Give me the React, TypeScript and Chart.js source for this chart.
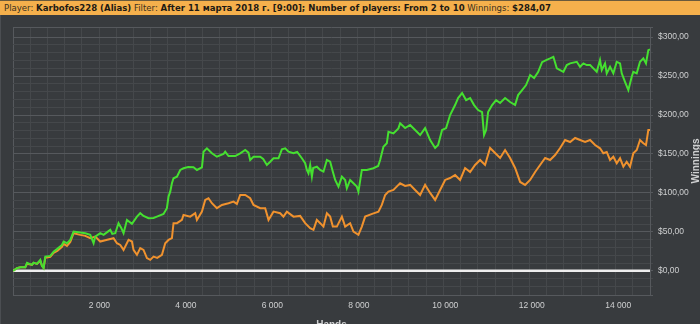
import React, { useEffect, useRef } from "react";
import { Chart, registerables } from "chart.js";

Chart.register(...registerables);

const headerPlayer = "Karbofos228 (Alias)";
const headerFilter = "After 11 марта 2018 г. [9:00]; Number of players: From 2 to 10";
const headerWinnings = "$284,07";

const xTitle = "Hands";
const yTitle = "Winnings";

const xTickValues = [2000, 4000, 6000, 8000, 10000, 12000, 14000];
const xTickLabels = ["2 000", "4 000", "6 000", "8 000", "10 000", "12 000", "14 000"];

const xMin = 0;
const xMax = 14734;
const yMin = -31;
const yMax = 313;
const xMinorStep = 400;
const xMajorStep = 2000;
const yMinorStep = 10;
const yMajorStep = 50;

const greenHands = [
  0, 92, 169, 284, 324, 439, 476, 555, 631, 670, 707, 747, 862, 939, 1024, 1133, 1170, 1248, 1325, 1401,
  1556, 1672, 1787, 1864, 1903, 2018, 2095, 2250, 2296, 2365, 2441, 2504, 2557, 2636, 2751, 2867, 2943, 3019,
  3135, 3251, 3329, 3482, 3560, 3597, 3637, 3676, 3713, 3792, 3868, 3944, 4053, 4175, 4254, 4370, 4407, 4485,
  4601, 4716, 4869, 4908, 4985, 5140, 5255, 5371, 5447, 5486, 5563, 5718, 5787, 5872, 5949, 6025, 6141, 6219,
  6296, 6372, 6488, 6573, 6682, 6758, 6797, 6834, 6874, 6913, 6943, 7028, 7105, 7181, 7260, 7336, 7398, 7452,
  7528, 7607, 7683, 7722, 7798, 7875, 7953, 7990, 8069, 8184, 8337, 8446, 8492, 8568, 8647, 8684, 8800, 8915,
  8954, 9070, 9186, 9301, 9417, 9532, 9648, 9764, 9833, 9925, 10018, 10110, 10226, 10295, 10388, 10480, 10573,
  10665, 10758, 10850, 10896, 10943, 10989, 11082, 11174, 11267, 11382, 11498, 11614, 11683, 11776, 11868,
  11961, 12053, 12146, 12238, 12331, 12423, 12499, 12578, 12731, 12809, 12886, 13040, 13116, 13193, 13271,
  13348, 13424, 13502, 13578, 13618, 13694, 13733, 13810, 13886, 13965, 14041, 14080, 14156, 14233, 14272,
  14311, 14348, 14427, 14503, 14580, 14641, 14695, 14734,
];
const greenWinnings = [
  0, 3.5, 4.7, 4.7, 10.3, 7.7, 10.6, 9.0, 14.1, 6.4, 3.5, 18.3, 19.2, 24.7, 28.2, 33.3, 37.6, 35.5, 39.7, 50.4,
  49.1, 48.3, 46.2, 35.5, 44.0, 48.3, 46.2, 52.6, 47.4, 48.3, 61.2, 55.1, 48.3, 65.4, 60.3, 69.6, 74.0, 70.5,
  67.6, 67.9, 69.6, 73.1, 80.4, 95.3, 101.7, 112.4, 118.8, 120.9, 129.5, 131.7, 133.3, 132.9, 129.5, 132.9, 152.9, 157.3,
  150.9, 146.5, 150.0, 152.9, 147.4, 147.4, 150.9, 155.1, 151.7, 142.3, 146.5, 146.5, 143.6, 135.9, 140.1, 144.5, 144.5, 156.0,
  157.3, 152.9, 150.9, 152.6, 144.5, 138.1, 129.5, 125.2, 135.9, 120.9, 132.0, 133.7, 129.5, 127.3, 142.3, 140.1, 127.3, 116.7,
  108.1, 120.9, 116.7, 106.0, 116.7, 112.4, 108.1, 101.7, 129.5, 129.5, 131.7, 134.6, 142.3, 159.4, 163.7, 178.6, 176.5, 182.9,
  189.4, 183.3, 187.2, 180.8, 174.4, 183.3, 167.9, 157.7, 161.5, 180.8, 183.3, 200.0, 212.8, 221.8, 228.2, 219.2, 221.8,
  212.8, 206.4, 203.8, 174.4, 180.8, 203.8, 212.8, 219.2, 215.4, 221.8, 216.7, 212.8, 225.6, 232.1, 238.5,
  251.3, 247.4, 255.1, 267.9, 270.5, 272.7, 274.7, 259.9, 255.5, 264.1, 266.3, 268.3, 261.9, 266.3, 264.1,
  264.1, 259.9, 255.5, 270.5, 257.7, 266.3, 253.5, 261.9, 253.5, 268.3, 266.3, 253.5, 242.7, 232.0, 240.6,
  249.1, 255.5, 253.5, 268.3, 272.7, 266.3, 283.3, 284.07,
];

const orangeHands = [
  0, 92, 169, 284, 324, 439, 476, 555, 631, 670, 707, 747, 862, 939, 1024, 1133, 1170, 1248, 1325, 1401,
  1556, 1672, 1787, 1903, 2018, 2157, 2326, 2404, 2481, 2557, 2673, 2751, 2788, 2867, 2943, 3019, 3098, 3174,
  3251, 3336, 3445, 3521, 3597, 3676, 3713, 3792, 3907, 3944, 4099, 4215, 4254, 4370, 4446, 4522, 4601, 4716,
  4832, 4985, 5100, 5179, 5255, 5371, 5486, 5563, 5718, 5833, 5910, 6025, 6180, 6256, 6335, 6488, 6642, 6758,
  6874, 6950, 7028, 7105, 7181, 7260, 7336, 7398, 7491, 7607, 7683, 7798, 7875, 7990, 8069, 8145, 8307, 8453,
  8531, 8608, 8684, 8800, 8915, 8954, 9070, 9186, 9301, 9417, 9532, 9648, 9764, 9879, 9995, 10110, 10226,
  10342, 10457, 10573, 10688, 10804, 10919, 11035, 11151, 11267, 11382, 11498, 11614, 11730, 11845, 11961,
  12077, 12192, 12308, 12423, 12539, 12655, 12770, 12886, 13002, 13117, 13233, 13348, 13464, 13578, 13655,
  13733, 13810, 13886, 13965, 14041, 14118, 14195, 14272, 14348, 14427, 14503, 14580, 14641, 14695, 14734,
];
const orangeWinnings = [
  0, 3.5, 4.7, 4.7, 9.0, 7.7, 10.3, 9.0, 12.8, 6.4, 3.8, 16.7, 17.9, 23.1, 25.6, 30.8, 34.6, 32.1, 37.2, 48.3,
  46.2, 44.9, 41.9, 44.0, 37.6, 39.7, 41.9, 35.5, 33.3, 26.9, 39.7, 37.6, 26.9, 20.5, 29.1, 26.9, 16.3, 14.1,
  18.3, 16.7, 20.5, 35.5, 39.7, 41.9, 61.2, 61.2, 65.4, 71.8, 69.6, 74.0, 65.4, 76.0, 91.0, 93.2, 86.8, 80.4,
  84.6, 86.8, 88.8, 85.9, 97.4, 97.4, 93.2, 84.6, 80.4, 80.4, 65.4, 76.0, 74.0, 69.6, 76.0, 69.6, 70.5, 61.2,
  54.7, 52.6, 65.4, 61.2, 56.8, 74.0, 69.6, 56.8, 56.8, 69.6, 56.8, 61.2, 50.4, 46.2, 56.8, 69.6, 73.1, 76.0,
  84.6, 97.4, 101.7, 103.8, 110.3, 112.4, 109.0, 110.3, 103.8, 97.4, 110.3, 100.0, 91.0, 103.8, 116.7, 119.2, 123.1,
  116.7, 132.0, 126.9, 135.9, 142.3, 135.9, 157.7, 151.3, 144.9, 155.1, 144.9, 132.0, 114.1, 110.3, 116.7,
  126.9, 135.9, 144.9, 142.3, 148.7, 157.7, 167.9, 165.4, 170.5, 167.9, 165.4, 167.9, 161.5, 157.3, 150.9,
  152.6, 142.3, 146.5, 138.1, 144.5, 133.7, 140.1, 133.7, 150.9, 155.1, 167.9, 163.7, 161.5, 180.8, 180.8,
];

const zeroHands = [xMin, xMax];
const zeroWinnings = [0, 0];

const BG = "#383b3e";
const GRID_MINOR = "#45484b";
const GRID_MAJOR = "#56595d";
const TEXT = "#cfd0d1";
const GREEN = "#45e030";
const ORANGE = "#f0922e";
const FONT = '"Liberation Sans", Arial, sans-serif';

const textPlugin = {
  id: "axisTextCustom",
  afterDraw(chart: any) {
    const { ctx, chartArea } = chart;
    const xs = chart.scales.x;
    ctx.save();
    ctx.fillStyle = TEXT;
    ctx.font = `8.5px ${FONT}`;
    ctx.textAlign = "center";
    ctx.textBaseline = "middle";
    xTickValues.forEach((v, i) => {
      ctx.fillText(xTickLabels[i], xs.getPixelForValue(v), 305.5);
    });
    ctx.font = `bold 10px ${FONT}`;
    ctx.textBaseline = "top";
    ctx.fillText(xTitle, (chartArea.left + chartArea.right) / 2, 320);
    ctx.translate(691, (chartArea.top + chartArea.bottom) / 2);
    ctx.rotate(-Math.PI / 2);
    ctx.textBaseline = "top";
    ctx.fillText(yTitle, 0, 0);
    ctx.restore();
  },
};

export default function App() {
  const canvasRef = useRef<HTMLCanvasElement | null>(null);

  useEffect(() => {
    if (!canvasRef.current) return;
    const toPts = (xs: number[], ys: number[]) => xs.map((x, i) => ({ x, y: ys[i] }));
    const chart = new Chart(canvasRef.current, {
      type: "line",
      data: {
        datasets: [
          {
            label: "Winnings",
            data: toPts(greenHands, greenWinnings),
            borderColor: GREEN,
            borderWidth: 2,
            pointRadius: 0,
            tension: 0,
            fill: false,
          },
          {
            label: "EV",
            data: toPts(orangeHands, orangeWinnings),
            borderColor: ORANGE,
            borderWidth: 2,
            pointRadius: 0,
            tension: 0,
            fill: false,
          },
          {
            label: "Zero",
            data: toPts(zeroHands, zeroWinnings),
            borderColor: "#eeeeee",
            borderWidth: 2.5,
            pointRadius: 0,
            tension: 0,
            fill: false,
          },
        ],
      },
      options: {
        responsive: false,
        animation: false,
        layout: { padding: { left: 13, top: 27, right: 0, bottom: 0 } },
        plugins: { legend: { display: false }, tooltip: { enabled: false } },
        scales: {
          x: {
            type: "linear",
            position: "bottom",
            min: xMin,
            max: xMax,
            afterFit: (s: any) => {
              s.height = 29;
            },
            grid: {
              color: (c: any) => {
                const v = c.tick ? c.tick.value : 0;
                if (v === xMin || v === xMax) return GRID_MAJOR;
                return v % xMajorStep === 0 ? GRID_MAJOR : GRID_MINOR;
              },
              lineWidth: 1,
              drawTicks: false,
            },
            border: { display: true, color: GRID_MAJOR, width: 1 },
            ticks: { display: false, stepSize: xMinorStep, autoSkip: false },
          },
          y: {
            type: "linear",
            position: "right",
            min: yMin,
            max: yMax,
            afterFit: (s: any) => {
              s.width = 50;
            },
            grid: {
              color: (c: any) => {
                const v = c.tick ? c.tick.value : 0;
                if (v === yMin || v === yMax) return GRID_MAJOR;
                return v % yMajorStep === 0 ? GRID_MAJOR : GRID_MINOR;
              },
              lineWidth: 1,
              tickLength: 3,
            },
            border: { display: true, color: GRID_MAJOR, width: 1 },
            ticks: {
              stepSize: yMinorStep,
              autoSkip: false,
              padding: 5,
              color: TEXT,
              font: { family: FONT, size: 8.5 },
              callback: (v: any) => {
                const n = Number(v);
                return n >= 0 && n % yMajorStep === 0 ? `$${n},00` : "";
              },
            },
          },
        },
      },
      plugins: [textPlugin],
    });
    return () => chart.destroy();
  }, []);

  const labelStyle: React.CSSProperties = { fontWeight: "normal", color: "#3a3020" };
  const valueStyle: React.CSSProperties = { fontWeight: "bold", color: "#1d1a14" };

  return (
    <div
      style={{
        position: "fixed",
        left: 0,
        top: 0,
        width: 700,
        height: 324,
        background: BG,
        overflow: "hidden",
      }}
    >
      <canvas ref={canvasRef} width={700} height={324} style={{ position: "absolute", left: 0, top: 0 }} />
      <div style={{ position: "absolute", left: 0, top: 0, width: 1, height: 324, background: "#4b4e52" }} />
      <div
        style={{
          position: "absolute",
          left: 0,
          top: 0,
          width: 700,
          height: 15,
          background: "#f5b04c",
          borderTop: "1px solid #6a5a3c",
          boxSizing: "border-box",
          fontFamily: '"Liberation Sans Narrow", "DejaVu Sans Condensed", Arial, sans-serif',
          fontSize: 9.5,
          lineHeight: "14px",
          paddingLeft: 4,
          whiteSpace: "nowrap",
        }}
      >
        <span style={labelStyle}>Player: </span>
        <span style={valueStyle}>{headerPlayer}</span>
        <span style={labelStyle}> Filter: </span>
        <span style={valueStyle}>{headerFilter}</span>
        <span style={labelStyle}> Winnings: </span>
        <span style={valueStyle}>{headerWinnings}</span>
      </div>
    </div>
  );
}
